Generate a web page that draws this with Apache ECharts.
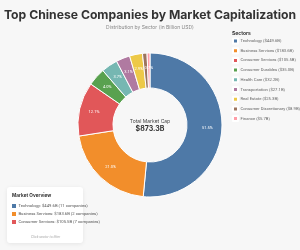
<!DOCTYPE html>
<html><head><meta charset="utf-8">
<script src="https://cdn.jsdelivr.net/npm/echarts@6/dist/echarts.min.js"></script>
<style>html,body{margin:0;padding:0;background:#f7f7f7;}#c{width:300px;height:250px;}</style>
</head><body><div id="c"></div>
<script>
var sectors = ["Technology","Business Services","Consumer Services","Consumer Durables","Health Care","Transportation","Real Estate","Consumer Discretionary","Finance"];
var values = [449.6,183.6,105.5,35.0,32.2,27.1,25.3,8.9,5.7];
var companies = [11,2,7];
var colors = ["#4e79a7","#f28e2b","#e15759","#59a14f","#76b7b2","#b07aa1","#edc948","#9c755f","#ff9da7"];
var totalLabel = "$873.3B";
var FONT = "Inter, 'Noto Sans', sans-serif";
var SMALL = "Roboto, 'Noto Sans', sans-serif";

var chart = echarts.init(document.getElementById('c'), null, {renderer:'canvas'});
var data = sectors.map(function(s,i){return {name:s,value:values[i],itemStyle:{color:colors[i]}};});
var total = values.reduce(function(a,b){return a+b;},0);
var overviewTexts = [];
for (var i=0;i<3;i++){
  overviewTexts.push({type:'rect',left:12,top:204+i*8,shape:{width:4,height:4},style:{fill:colors[i]},z:20});
  overviewTexts.push({type:'text',left:18.5,top:204+i*8,style:{text:sectors[i]+': $'+values[i].toFixed(1)+'B ('+companies[i]+' companies)',fontSize:4.2,fill:'#555',fontFamily:SMALL},z:20});
}
chart.setOption({
  backgroundColor:'#f7f7f7',
  title:[{text:'Top Chinese Companies by Market Capitalization',left:'center',top:9,padding:0,textStyle:{fontSize:12.2,fontWeight:'bold',color:'#333',fontFamily:FONT}},
         {text:'Distribution by Sector (in Billion USD)',left:'center',top:24.5,padding:0,textStyle:{fontSize:5,fontWeight:'normal',color:'#888',fontFamily:FONT}}],
  legend:{orient:'vertical',left:232,top:37.5,padding:0,itemWidth:5,itemHeight:5,itemGap:2.7,icon:'rect',
    textStyle:{fontSize:4.2,lineHeight:5,color:'#666',fontFamily:SMALL,padding:[0,0,0,-2.5]},
    formatter:function(n){var i=sectors.indexOf(n);return n+' ($'+values[i].toFixed(1)+'B)';}},
  graphic:[
    {type:'text',left:232,top:30.5,style:{text:'Sectors',fontSize:5,fontWeight:'bold',fill:'#333',fontFamily:FONT}},
    {type:'text',left:'center',top:118.5,style:{text:'Total Market Cap',fontSize:5,fill:'#444',fontFamily:FONT,textAlign:'center'},z:10},
    {type:'text',left:'center',top:125.5,style:{text:totalLabel,fontSize:7,fontWeight:'bold',fill:'#333',fontFamily:FONT,textAlign:'center'},z:10},
    {type:'rect',left:7,top:187,shape:{width:76,height:56,r:3},style:{fill:'#fff',shadowBlur:4,shadowColor:'rgba(0,0,0,0.08)',shadowOffsetY:1},z:15},
    {type:'text',left:12,top:193,style:{text:'Market Overview',fontSize:4.7,fontWeight:'bold',fill:'#333',fontFamily:FONT},z:20},
    {type:'text',left:31,top:235.5,style:{text:'Click sector to filter',fontSize:3.5,fontStyle:'italic',fill:'#aaa',fontFamily:SMALL},z:20}
  ].concat(overviewTexts),
  series:[{type:'pie',center:[150,125],radius:[37,72],startAngle:90,clockwise:true,avoidLabelOverlap:false,
    itemStyle:{borderColor:'#fff',borderWidth:1},
    label:{show:true,position:'inside',fontSize:4,color:'#fff',fontFamily:SMALL,
      formatter:function(p){return (p.value/total*100).toFixed(1)+'%';}},
    labelLine:{show:false},
    data:data}]
});
</script></body></html>
